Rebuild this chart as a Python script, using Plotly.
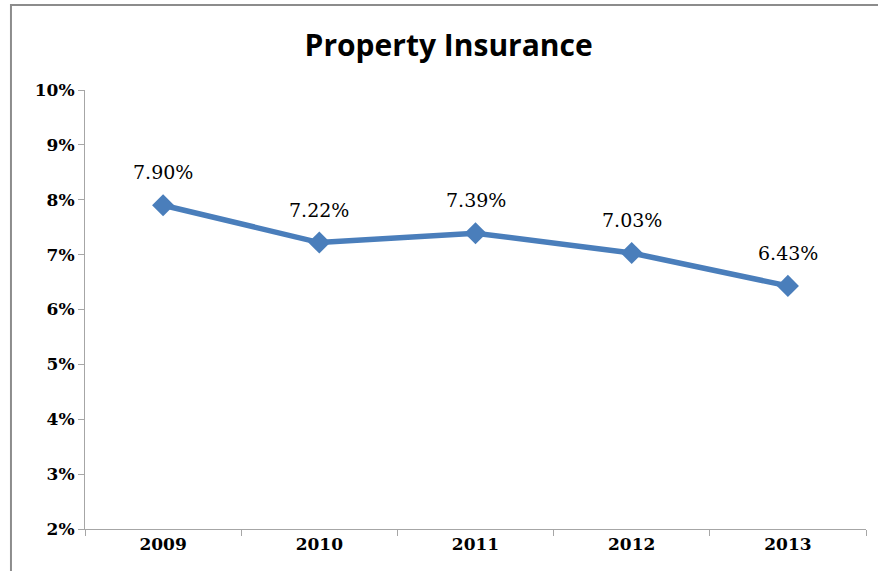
import plotly.graph_objects as go

years = ["2009", "2010", "2011", "2012", "2013"]
values = [7.90, 7.22, 7.39, 7.03, 6.43]
labels = ["7.90%", "7.22%", "7.39%", "7.03%", "6.43%"]
y_ticks = [2, 3, 4, 5, 6, 7, 8, 9, 10]
y_tick_text = [f"{v}%" for v in y_ticks]

fig = go.Figure()
fig.add_trace(go.Scatter(
    x=years, y=values, mode="lines+markers",
    line=dict(color="#4a7ebb", width=5.5),
    marker=dict(symbol="diamond", size=17, color="#4a7ebb"),
    hoverinfo="skip", showlegend=False,
))

for i, (y, t) in enumerate(zip(values, labels)):
    fig.add_annotation(x=i, y=y, xref="x", yref="y", text=t, showarrow=False, yshift=33,
                       font=dict(family="DejaVu Serif", size=19, color="#000000"))

fig.add_shape(type="rect", xref="paper", yref="paper",
              x0=-0.0948, x1=1.1, y0=-0.2, y1=1.1936,
              line=dict(color="#8c8c8c", width=2), fillcolor="rgba(0,0,0,0)", layer="below")

tick_font = dict(family="DejaVu Serif", size=17, color="#000000", weight="bold")

fig.update_layout(
    width=878, height=571,
    margin=dict(l=85, r=12, t=90, b=42),
    paper_bgcolor="white", plot_bgcolor="white",
    title=dict(text="<b>Property Insurance</b>", x=0.511, xanchor="center", y=0.921, yanchor="middle",
               font=dict(family="Open Sans", size=30, color="#000000")),
    xaxis=dict(type="category", showgrid=False, showline=True, linecolor="#a6a6a6", linewidth=1,
               ticks="outside", ticklen=6, tickcolor="#a6a6a6", tickson="boundaries",
               tickfont=tick_font, range=[-0.5, 4.5]),
    yaxis=dict(range=[2, 10], tickvals=y_ticks, ticktext=y_tick_text, showgrid=False,
               showline=True, linecolor="#a6a6a6", linewidth=1, ticks="outside", ticklen=6,
               tickcolor="#a6a6a6", zeroline=False, tickfont=tick_font),
)

fig.write_html("out.html", config={"displayModeBar": False},
               post_script="document.body.style.margin='0';")
